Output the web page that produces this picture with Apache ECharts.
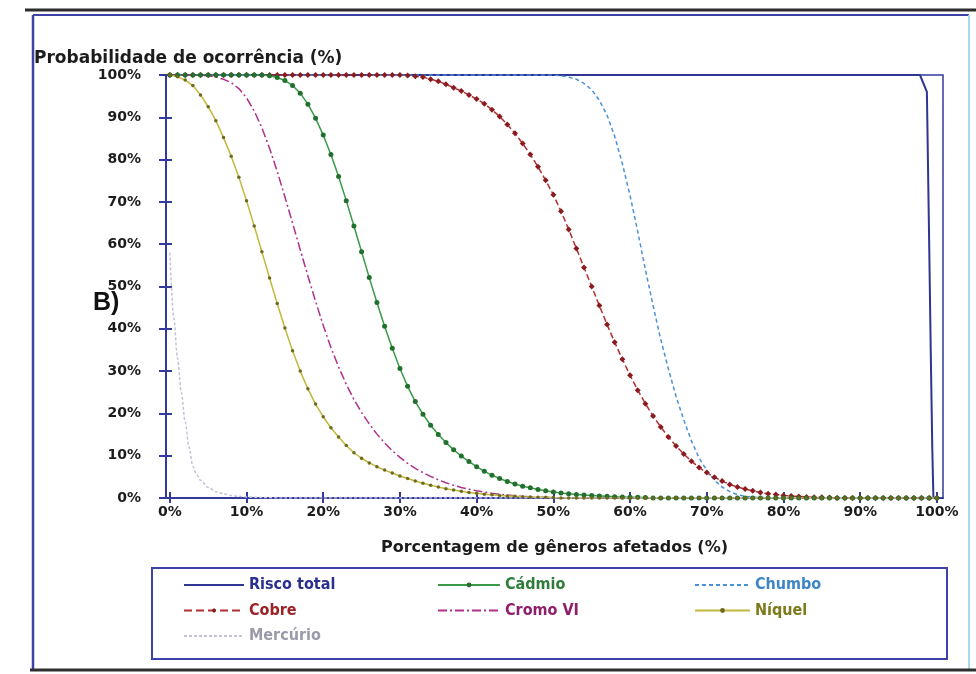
<!DOCTYPE html>
<html>
<head>
<meta charset="utf-8">
<script src="https://cdn.jsdelivr.net/npm/echarts@6/dist/echarts.min.js"></script>
<style>
  html, body { margin: 0; padding: 0; background: #ffffff; }
  #chart { width: 976px; height: 674px; }
</style>
</head>
<body>
<div id="chart"></div>
<script>
// Percent of genera affected (x positions of the 1%-step curves)
const pctGeneros = [0,1,2,3,4,5,6,7,8,9,10,11,12,13,14,15,16,17,18,19,20,21,22,23,24,25,26,27,28,29,30,31,32,33,34,35,36,37,38,39,40,41,42,43,44,45,46,47,48,49,50,51,52,53,54,55,56,57,58,59,60,61,62,63,64,65,66,67,68,69,70,71,72,73,74,75,76,77,78,79,80,81,82,83,84,85,86,87,88,89,90,91,92,93,94,95,96,97,98,99,100];

// Tick values for the x axis
const xTicks = [0,10,20,30,40,50,60,70,80,90,100];

// Probability of occurrence (%) for each metal, one value per percent step
const cobre = [100,100,100,100,100,100,100,100,100,100,100,100,100,100,100,100,100,100,100,100,100,100,100,100,100,100,100,100,100,100,100,99.9,99.7,99.5,99,98.5,97.8,97,96.2,95.3,94.3,93.2,91.8,90.2,88.3,86.2,83.8,81.2,78.3,75.1,71.7,67.8,63.5,59,54.5,50,45.5,41,36.8,32.8,29,25.5,22.3,19.4,16.8,14.4,12.3,10.4,8.7,7.2,6,4.9,4,3.2,2.6,2.1,1.7,1.3,1,0.8,0.6,0.45,0.35,0.25,0.2,0.15,0.1,0,0,0,0,0,0,0,0,0,0,0,0,0,0];

const cadmio = [100,100,100,100,100,100,100,100,100,100,100,100,100,99.8,99.4,98.7,97.5,95.7,93.1,89.8,85.8,81.2,76,70.3,64.3,58.2,52.1,46.2,40.6,35.4,30.6,26.4,22.8,19.8,17.2,15,13.1,11.4,9.9,8.6,7.4,6.3,5.4,4.6,3.9,3.3,2.8,2.4,2,1.7,1.4,1.2,1,0.85,0.7,0.6,0.5,0.4,0.3,0.25,0.2,0.15,0.1,0,0,0,0,0,0,0,0,0,0,0,0,0,0,0,0,0,0,0,0,0,0,0,0,0,0,0,0,0,0,0,0,0,0,0,0,0,0];

const chumbo = [100,100,100,100,100,100,100,100,100,100,100,100,100,100,100,100,100,100,100,100,100,100,100,100,100,100,100,100,100,100,100,100,100,100,100,100,100,100,100,100,100,100,100,100,100,100,100,100,100,100,100,99.8,99.5,99,98,96.5,94,90.5,85.5,79,71.5,63,54,45.5,37.5,30.5,24,18.5,13.5,9.5,6.5,4.2,2.6,1.5,0.8,0.4,0.2,0.1,0,0,0,0,0,0,0,0,0,0,0,0,0,0,0,0,0,0,0,0,0,0,0];

const cromoVI = [100,100,100,100,99.9,99.8,99.5,99,98.2,96.8,94.6,91.5,87.5,82.7,77.2,71.2,65,58.7,52.5,46.5,40.8,35.6,31,26.9,23.3,20.2,17.5,15.1,13,11.2,9.6,8.2,7,6,5.1,4.3,3.6,3,2.5,2.1,1.7,1.4,1.1,0.9,0.7,0.55,0.4,0.3,0.2,0.15,0.1,0,0,0,0,0,0,0,0,0,0,0,0,0,0,0,0,0,0,0,0,0,0,0,0,0,0,0,0,0,0,0,0,0,0,0,0,0,0,0,0,0,0,0,0,0,0,0,0,0,0];

const niquel = [100,99.6,98.8,97.5,95.3,92.5,89.2,85.2,80.8,75.8,70.3,64.3,58.2,52,46,40.2,34.8,30,25.8,22.2,19.2,16.6,14.4,12.4,10.7,9.4,8.3,7.4,6.6,5.9,5.2,4.6,4,3.5,3,2.6,2.2,1.9,1.6,1.3,1.1,0.9,0.75,0.6,0.5,0.4,0.3,0.25,0.2,0.15,0.1,0,0,0,0,0,0,0,0,0,0,0,0,0,0,0,0,0,0,0,0,0,0,0,0,0,0,0,0,0,0,0,0,0,0,0,0,0,0,0,0,0,0,0,0,0,0,0,0,0,0];

// Mercury and total risk are sampled at their own x positions
const mercurioX = [0,0.5,1,1.5,2,2.5,3,3.5,4,5,6,7,8,9,10,12,15,20,30,50,100];
const mercurioY = [58,43,33,25,18,12,7.5,5.5,4.2,2.5,1.5,1,0.6,0.4,0.25,0.1,0,0,0,0,0];

const riscoTotalX = [0,97.8,98.7,99,99.2,99.4,99.55,100];
const riscoTotalY = [100,100,96,60,35,12,0,0];

const pair = (xs, ys) => xs.map((x, i) => [x, ys[i]]);

const AXIS_BLUE = '#34399c';
const tickFont = { fontFamily: "'DejaVu Sans', sans-serif", fontWeight: 'bold', fontSize: 14, color: '#1c1c1c' };
const legendFont = { fontFamily: "'Liberation Sans Narrow', 'DejaVu Sans Condensed', 'Liberation Sans', sans-serif", fontWeight: 'bold', fontSize: 16, lineHeight: 16 };
// legend entries for plain (marker-less) lines hide the centre symbol
const noMarker = { opacity: 0 };

const chart = echarts.init(document.getElementById('chart'), null, { renderer: 'canvas' });

const option = {
  animation: false,
  backgroundColor: '#ffffff',
  title: [
    {
      text: 'Probabilidade de ocorrência (%)',
      left: 29, top: 45,
      textStyle: { fontFamily: "'DejaVu Sans', sans-serif", fontWeight: 'bold', fontSize: 17, color: '#1c1c1c' }
    },
    {
      text: 'B)',
      left: 88, top: 286,
      textStyle: { fontFamily: "'Liberation Sans', sans-serif", fontWeight: 'bold', fontSize: 25, color: '#111111' }
    }
  ],
  grid: {
    left: 166, top: 75, right: 33, bottom: 176,
    show: true, backgroundColor: '#ffffff',
    borderColor: AXIS_BLUE, borderWidth: 1.5
  },
  xAxis: [
    {
      type: 'value', min: -0.5, max: 100.8,
      name: 'Porcentagem de gêneros afetados (%)',
      nameLocation: 'middle', nameGap: 42,
      nameTextStyle: { fontFamily: "'DejaVu Sans', sans-serif", fontWeight: 'bold', fontSize: 16, color: '#1c1c1c' },
      axisLine: { show: true, onZero: false, lineStyle: { color: AXIS_BLUE, width: 2 } },
      axisTick: { show: true, customValues: xTicks, length: 5, lineStyle: { color: AXIS_BLUE, width: 2 } },
      axisLabel: { customValues: xTicks, formatter: '{value}%', margin: 7, ...tickFont },
      splitLine: { show: false }
    },
    {
      type: 'value', min: -0.5, max: 100.8, position: 'bottom',
      axisLine: { show: false, onZero: false },
      axisTick: { show: true, inside: true, customValues: xTicks, length: 6, lineStyle: { color: AXIS_BLUE, width: 2 } },
      axisLabel: { show: false },
      splitLine: { show: false }
    }
  ],
  yAxis: [
    {
      type: 'value', min: 0, max: 100, interval: 10,
      axisLine: { show: true, onZero: false, lineStyle: { color: AXIS_BLUE, width: 2 } },
      axisTick: { show: true, length: 7, lineStyle: { color: AXIS_BLUE, width: 2 } },
      axisLabel: { formatter: '{value}%', margin: 25, ...tickFont },
      splitLine: { show: false }
    },
    {
      type: 'value', min: 0, max: 100, interval: 10, position: 'left',
      axisLine: { show: false, onZero: false },
      axisTick: { show: true, inside: true, length: 6, lineStyle: { color: AXIS_BLUE, width: 2 } },
      axisLabel: { show: false },
      splitLine: { show: false }
    }
  ],
  legend: [
    {
      orient: 'vertical', left: 178, top: 572,
      itemWidth: 60, itemHeight: 6, itemGap: 9.5, selectedMode: false,
      textStyle: legendFont,
      data: [
        { name: 'Risco total', textStyle: { color: '#2b2f8f' }, itemStyle: noMarker },
        { name: 'Cobre', textStyle: { color: '#9b2226' } },
        { name: 'Mercúrio', textStyle: { color: '#9a9aab' }, itemStyle: noMarker }
      ]
    },
    {
      orient: 'vertical', left: 432, top: 572,
      itemWidth: 62, itemHeight: 6, itemGap: 9.5, selectedMode: false,
      textStyle: legendFont,
      data: [
        { name: 'Cádmio', textStyle: { color: '#2e7d3a' } },
        { name: 'Cromo VI', textStyle: { color: '#8e1f6a' }, itemStyle: noMarker }
      ]
    },
    {
      orient: 'vertical', left: 689, top: 572,
      itemWidth: 55, itemHeight: 6, itemGap: 9.5, selectedMode: false,
      textStyle: legendFont,
      data: [
        { name: 'Chumbo', textStyle: { color: '#3d86c6' }, itemStyle: noMarker },
        { name: 'Níquel', textStyle: { color: '#7d7a1a' } }
      ]
    }
  ],
  series: [
    {
      name: 'Risco total', type: 'line', symbol: 'none',
      data: pair(riscoTotalX, riscoTotalY),
      lineStyle: { color: '#2f3592', width: 2 },
      itemStyle: { color: '#2f3592' }, z: 3
    },
    {
      name: 'Cobre', type: 'line', symbol: 'diamond', symbolSize: 6,
      data: pair(pctGeneros, cobre),
      lineStyle: { color: '#b03034', width: 1.5, type: 'dashed' },
      itemStyle: { color: '#8a1c20' }, z: 4
    },
    {
      name: 'Cádmio', type: 'line', symbol: 'circle', symbolSize: 5,
      data: pair(pctGeneros, cadmio),
      lineStyle: { color: '#3a9a48', width: 1.5 },
      itemStyle: { color: '#21702d' }, z: 4
    },
    {
      name: 'Chumbo', type: 'line', symbol: 'none',
      data: pair(pctGeneros, chumbo),
      lineStyle: { color: '#4a92d8', width: 1.5, type: [4, 3] },
      itemStyle: { color: '#4a92d8' }, z: 4
    },
    {
      name: 'Cromo VI', type: 'line', symbol: 'none',
      data: pair(pctGeneros, cromoVI),
      lineStyle: { color: '#b0308c', width: 1.5, type: [9, 3, 2, 3] },
      itemStyle: { color: '#b0308c' }, z: 4
    },
    {
      name: 'Níquel', type: 'line', symbol: 'circle', symbolSize: 3.5,
      data: pair(pctGeneros, niquel),
      lineStyle: { color: '#c2b83a', width: 1.5 },
      itemStyle: { color: '#6e6a20' }, z: 4
    },
    {
      name: 'Mercúrio', type: 'line', symbol: 'none', smooth: 0.3, smoothMonotone: 'x',
      data: pair(mercurioX, mercurioY),
      lineStyle: { color: '#c2c2d8', width: 1.5, type: [3, 2] },
      itemStyle: { color: '#c2c2d8' }, z: 4
    }
  ],
  graphic: [
    { type: 'line', shape: { x1: 25, y1: 10, x2: 976, y2: 10 }, style: { stroke: '#2c2c2c', lineWidth: 3 } },
    { type: 'line', shape: { x1: 33, y1: 15, x2: 969, y2: 15 }, style: { stroke: '#3d43a6', lineWidth: 2 } },
    { type: 'line', shape: { x1: 33, y1: 15, x2: 33, y2: 669 }, style: { stroke: '#3d43a6', lineWidth: 2.5 } },
    { type: 'line', shape: { x1: 969, y1: 15, x2: 969, y2: 669 }, style: { stroke: '#a9d8ee', lineWidth: 2 } },
    { type: 'line', shape: { x1: 30, y1: 670, x2: 976, y2: 670 }, style: { stroke: '#303030', lineWidth: 3 } },
    { type: 'rect', shape: { x: 152, y: 568, width: 795, height: 91 }, style: { fill: 'none', stroke: '#3d43a6', lineWidth: 2 } }
  ]
};

chart.setOption(option);
</script>
</body>
</html>
